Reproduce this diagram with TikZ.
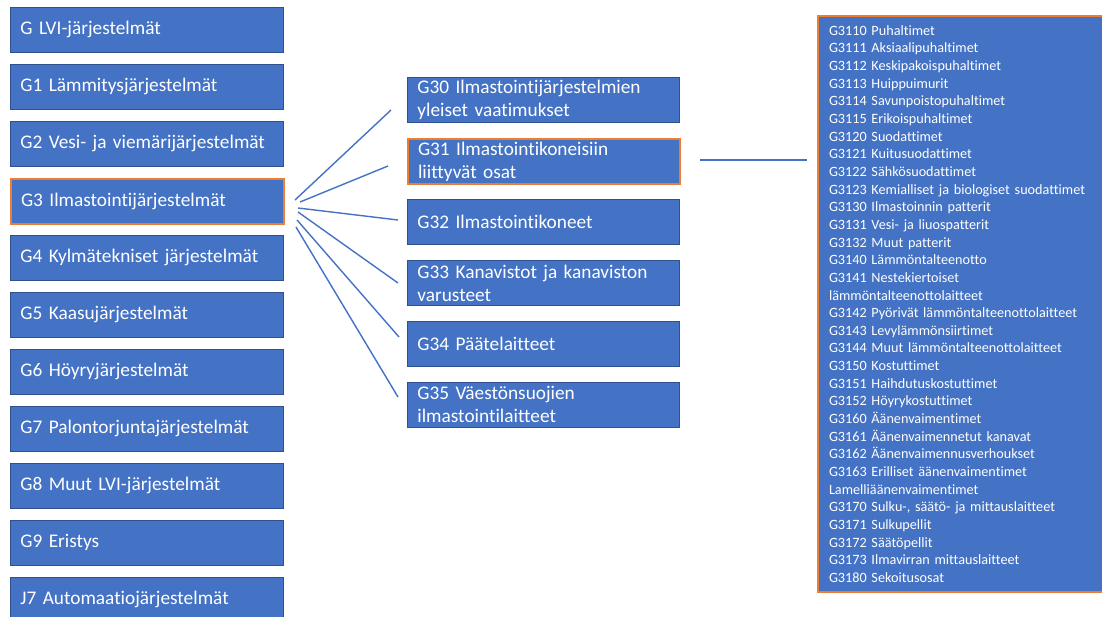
\documentclass[tikz,border=0pt]{standalone}
\usepackage{fontspec}
\setmainfont[Ligatures=NoCommon]{Carlito}
\definecolor{boxblue}{HTML}{4472C4}
\definecolor{edgeblue}{HTML}{2F528F}
\definecolor{hiorange}{HTML}{ED7D31}
\begin{document}
\begin{tikzpicture}[x=1pt,y=-1pt,
  leftbox/.style={draw=edgeblue,line width=0.8pt,fill=boxblue,text=white,anchor=north west,
    minimum width=273pt,minimum height=45pt,text width=253pt,inner xsep=10pt,inner ysep=0pt,align=left,
    font=\fontsize{19.3}{22}\selectfont},
  midbox/.style={draw=edgeblue,line width=0.8pt,fill=boxblue,text=white,anchor=north west,
    minimum width=272pt,minimum height=45pt,text width=252pt,inner xsep=10pt,inner ysep=0pt,align=left,
    font=\fontsize{19.3}{23}\selectfont},
  hilite/.style={draw=hiorange,line width=2pt},
  link/.style={draw=boxblue,line width=1.4pt}]
\useasboundingbox (0,0) rectangle (1102,617);
\clip (0,0) rectangle (1102,617);
% left column
\node[leftbox] (l0) at (10,7) {G LVI-järjestelmät};
\node[leftbox] (l1) at (10,64) {G1 Lämmitysjärjestelmät};
\node[leftbox] (l2) at (10,121) {G2 Vesi- ja viemärijärjestelmät};
\node[leftbox,hilite] (l3) at (10,178) {G3 Ilmastointijärjestelmät};
\node[leftbox] (l4) at (10,235) {G4 Kylmätekniset järjestelmät};
\node[leftbox] (l5) at (10,292) {G5 Kaasujärjestelmät};
\node[leftbox] (l6) at (10,349) {G6 Höyryjärjestelmät};
\node[leftbox] (l7) at (10,406) {G7 Palontorjuntajärjestelmät};
\node[leftbox] (l8) at (10,463) {G8 Muut LVI-järjestelmät};
\node[leftbox] (l9) at (10,520) {G9 Eristys};
\node[leftbox] (l10) at (10,577) {J7 Automaatiojärjestelmät};
% middle column
\node[midbox] (m0) at (407,77) {G30 Ilmastointijärjestelmien\\yleiset vaatimukset};
\node[midbox,hilite] (m1) at (407,138) {G31 Ilmastointikoneisiin\\liittyvät osat};
\node[midbox] (m2) at (407,199) {G32 Ilmastointikoneet};
\node[midbox] (m3) at (407,260) {G33 Kanavistot ja kanaviston\\varusteet};
\node[midbox] (m4) at (407,321) {G34 Päätelaitteet};
\node[midbox] (m5) at (407,382) {G35 Väestönsuojien\\ilmastointilaitteet};
% right list
\node[draw=hiorange,line width=2pt,fill=boxblue,text=white,anchor=north west,
  minimum width=300pt,minimum height=576pt,text width=278pt,inner xsep=11pt,inner ysep=0pt,align=left,
  font=\fontsize{14.2}{17.65}\selectfont] (r) at (817,15) {%
G3110 Puhaltimet\\
G3111 Aksiaalipuhaltimet\\
G3112 Keskipakoispuhaltimet\\
G3113 Huippuimurit\\
G3114 Savunpoistopuhaltimet\\
G3115 Erikoispuhaltimet\\
G3120 Suodattimet\\
G3121 Kuitusuodattimet\\
G3122 Sähkösuodattimet\\
G3123 Kemialliset ja biologiset suodattimet\\
G3130 Ilmastoinnin patterit\\
G3131 Vesi- ja liuospatterit\\
G3132 Muut patterit\\
G3140 Lämmöntalteenotto\\
G3141 Nestekiertoiset\\
lämmöntalteenottolaitteet\\
G3142 Pyörivät lämmöntalteenottolaitteet\\
G3143 Levylämmönsiirtimet\\
G3144 Muut lämmöntalteenottolaitteet\\
G3150 Kostuttimet\\
G3151 Haihdutuskostuttimet\\
G3152 Höyrykostuttimet\\
G3160 Äänenvaimentimet\\
G3161 Äänenvaimennetut kanavat\\
G3162 Äänenvaimennusverhoukset\\
G3163 Erilliset äänenvaimentimet\\
Lamelliäänenvaimentimet\\
G3170 Sulku-, säätö- ja mittauslaitteet\\
G3171 Sulkupellit\\
G3172 Säätöpellit\\
G3173 Ilmavirran mittauslaitteet\\
G3180 Sekoitusosat};
% connector ends
\coordinate (s0) at (295,200);
\coordinate (s1) at (300,202);
\coordinate (s2) at (298,208);
\coordinate (s3) at (298,212);
\coordinate (s4) at (297,220);
\coordinate (s5) at (296,227);
\coordinate (e0) at (391,110);
\coordinate (e1) at (388,166);
\coordinate (e2) at (398,220);
\coordinate (e3) at (398,283);
\coordinate (e4) at (399,337);
\coordinate (e5) at (398,397);
\coordinate (rs) at (700,160);
\coordinate (re) at (807,160);
\draw[link] (s0) -- (e0);
\draw[link] (s1) -- (e1);
\draw[link] (s2) -- (e2);
\draw[link] (s3) -- (e3);
\draw[link] (s4) -- (e4);
\draw[link] (s5) -- (e5);
\draw[link] (rs) -- (re);
\end{tikzpicture}
\end{document}
